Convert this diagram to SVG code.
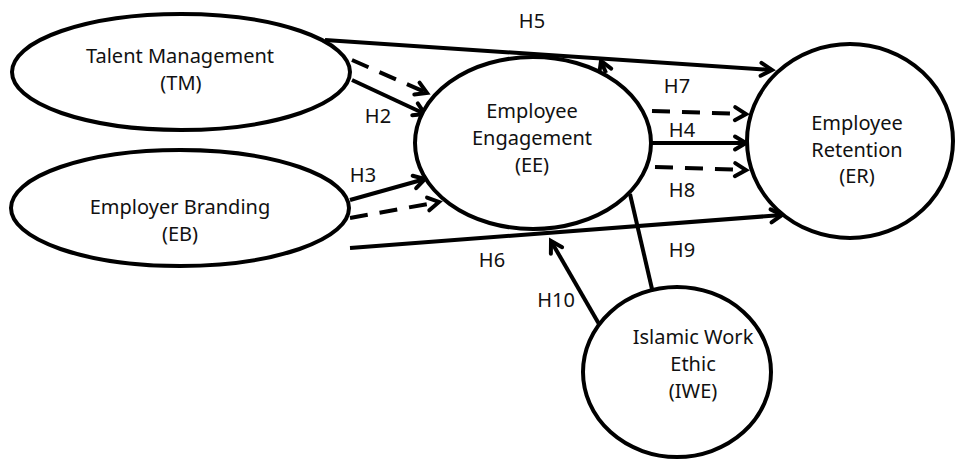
<svg xmlns="http://www.w3.org/2000/svg" width="955" height="463" viewBox="0 0 955 463">
<style>
.node{fill:#fff;stroke:#000;stroke-width:4}
.t{font-family:"Noto Sans","Open Sans",sans-serif;font-size:20px;fill:#111;text-anchor:middle}
.c{fill:none;stroke:#000;stroke-width:4}
.d{stroke-dasharray:18 12}
</style>
<defs>
<marker id="ah" viewBox="0 0 16 16" refX="13" refY="8" markerWidth="16" markerHeight="16" markerUnits="userSpaceOnUse" orient="auto" overflow="visible">
<path d="M2,1.5 L13,8 L2,14.5" fill="none" stroke="#000" stroke-width="4" stroke-linecap="round" stroke-linejoin="miter"/>
</marker>
</defs>
<rect width="955" height="463" fill="#fff"/>
<g id="connectors">
<line class="c" x1="325" y1="40" x2="772" y2="70" marker-end="url(#ah)"/>
<line class="c" x1="350" y1="248" x2="782" y2="215" marker-end="url(#ah)"/>
<line class="c d" x1="352" y1="60" x2="427" y2="93" marker-end="url(#ah)"/>
<line class="c" x1="352" y1="80" x2="425" y2="114" marker-end="url(#ah)"/>
<line class="c" x1="350" y1="200" x2="425" y2="179" marker-end="url(#ah)"/>
<line class="c d" x1="350" y1="218" x2="439" y2="202" marker-end="url(#ah)"/>
<line class="c d" x1="652" y1="111" x2="746" y2="114" marker-end="url(#ah)"/>
<line class="c" x1="652" y1="143" x2="746" y2="143" marker-end="url(#ah)"/>
<line class="c d" x1="655" y1="167" x2="746" y2="170" marker-end="url(#ah)"/>
<line class="c" x1="630" y1="194" x2="652" y2="289"/>
<line class="c" x1="599" y1="324" x2="551" y2="241" marker-end="url(#ah)"/>
<line class="c" x1="606" y1="73" x2="601" y2="61" marker-end="url(#ah)"/>
</g>
<g id="TM">
<ellipse class="node" cx="181" cy="72" rx="169" ry="58"/>
<text class="t" x="180" y="63">Talent Management</text>
<text class="t" x="181" y="90">(TM)</text>
</g>
<g id="EB">
<ellipse class="node" cx="180" cy="208" rx="169" ry="58"/>
<text class="t" x="180" y="214">Employer Branding</text>
<text class="t" x="180" y="241">(EB)</text>
</g>
<g id="EE">
<ellipse class="node" cx="533" cy="143" rx="118" ry="86"/>
<text class="t" x="532" y="118">Employee</text>
<text class="t" x="532" y="145">Engagement</text>
<text class="t" x="532" y="172">(EE)</text>
</g>
<g id="ER">
<ellipse class="node" cx="850" cy="141" rx="103" ry="97"/>
<text class="t" x="857" y="130">Employee</text>
<text class="t" x="857" y="157">Retention</text>
<text class="t" x="857" y="183">(ER)</text>
</g>
<g id="IWE">
<ellipse class="node" cx="677" cy="372" rx="94" ry="85"/>
<text class="t" x="693" y="344">Islamic Work</text>
<text class="t" x="693" y="371">Ethic</text>
<text class="t" x="693" y="398">(IWE)</text>
</g>
<g id="labels">
<text class="t" x="532" y="28">H5</text>
<text class="t" x="378" y="123">H2</text>
<text class="t" x="363" y="182">H3</text>
<text class="t" x="677" y="93">H7</text>
<text class="t" x="682" y="137">H4</text>
<text class="t" x="682" y="197">H8</text>
<text class="t" x="682" y="257">H9</text>
<text class="t" x="492" y="267">H6</text>
<text class="t" x="556" y="307">H10</text>
</g>
</svg>
